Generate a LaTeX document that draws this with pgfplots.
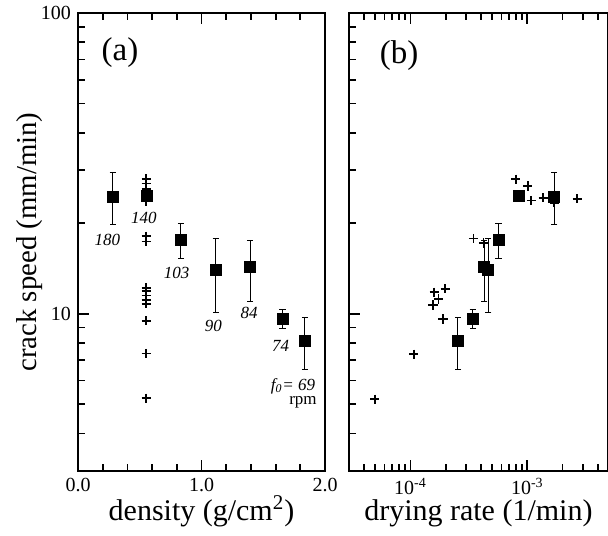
\documentclass[border=0pt]{standalone}
\usepackage{pgfplots}
\pgfplotsset{compat=1.18}
\usepackage{pgfplotstable}
\usepackage{fontspec}
\setmainfont{Liberation Serif}

% squares: x, speed, error plus, error minus
\pgfplotstableread{
x y ep em
0.281 24.5 4.9 4.7
0.559 24.7 0 0
0.834 17.6 2.3 2.3
1.115 14.0 3.8 3.9
1.393 14.3 3.2 3.3
1.657 9.6 0.7 0.7
1.838 8.13 1.57 1.58
}\densq

\pgfplotstableread{
x y
0.553 28.1
0.553 27.1
0.553 26.0
0.553 23.6
0.553 18.1
0.553 17.4
0.553 12.2
0.553 11.9
0.553 11.5
0.553 11.1
0.553 10.8
0.553 9.48
0.553 7.38
0.553 5.24
}\denplus

\pgfplotstableread{
x y ep em
1.70e-3 24.5 4.9 4.7
8.5e-4 24.7 0 0
5.67e-4 17.6 2.3 2.3
4.62e-4 14.0 3.8 3.9
4.27e-4 14.3 3.2 3.3
3.42e-4 9.6 0.7 0.7
2.55e-4 8.13 1.57 1.58
}\ratesq

\pgfplotstableread{
x y
7.96e-4 28.0
1.01e-3 26.6
1.08e-3 23.8
1.37e-3 24.3
1.70e-3 23.4
2.67e-3 24.1
3.47e-4 17.8
4.22e-4 17.2
1.60e-4 11.8
1.98e-4 12.1
1.74e-4 11.2
1.56e-4 10.7
1.90e-4 9.6
1.07e-4 7.34
4.94e-5 5.2
}\rateplus

\newcommand\annfont{\fontsize{8.5bp}{10bp}\selectfont\itshape}

\pgfplotsset{
  panel/.style={
    scale only axis,
    height=229bp,
    ymin=3, ymax=100,
    ytick={10,100},
    minor ytick={3,4,5,6,7,8,9,20,30,40,50,60,70,80,90},
    axis line style={line width=1bp},
    tick align=inside,
    major tick length=5.5bp,
    minor tick length=3.5bp,
    every tick/.style={black, line width=0.9bp},
    ytick pos=left,
    xtick pos=both,
    xticklabel pos=bottom,
    tick label style={font=\fontsize{10bp}{12bp}\selectfont},
    xlabel style={font=\fontsize{15bp}{18bp}\selectfont,
      at={(axis description cs:0.5,-0.107)}, anchor=base},
    ylabel style={font=\fontsize{14.4bp}{17bp}\selectfont},
  },
  sq/.style={black, only marks, mark=square*, mark size=2.75bp,
    mark options={line width=0.5bp},
    error bars/y dir=both, error bars/y explicit,
    error bars/error bar style={line width=0.5bp},
    error bars/error mark options={rotate=90, mark size=1.6bp, line width=0.5bp}},
  pl/.style={black, only marks, mark=+, mark size=2.3bp, line width=0.9bp},
}

\begin{document}
\begin{tikzpicture}
\begin{axis}[ymode=log, panel, name=L,
    at={(39bp,32.5bp)}, anchor=south west,
    width=123.5bp,
    xmin=0, xmax=2,
    xtick={0,1,2}, xticklabels={0.0,1.0,2.0},
    minor xtick={0.2,0.4,0.6,0.8,1.2,1.4,1.6,1.8},
    yticklabels={10,100},
    xlabel={density (g/cm\textsuperscript{2})},
    ylabel={crack speed (mm/min)},
    ylabel style={at={(axis description cs:-0.166,0.5)}, anchor=base},
  ]
  \addplot[pl] table[x=x,y=y] {\denplus};
  \addplot[sq] table[x=x,y=y,y error plus=ep,y error minus=em] {\densq};
  \node[font=\fontsize{16.5bp}{19bp}\selectfont] at (rel axis cs:0.17,0.914) {(a)};
  \node[font=\annfont] at (axis cs:0.237,17.6) {180};
  \node[font=\annfont] at (axis cs:0.534,20.8) {140};
  \node[font=\annfont] at (axis cs:0.799,13.7) {103};
  \node[font=\annfont] at (axis cs:1.096,9.12) {90};
  \node[font=\annfont] at (axis cs:1.385,10.05) {84};
  \node[font=\annfont] at (axis cs:1.641,7.82) {74};
  \node[font=\annfont] at (axis cs:1.741,5.75) {f\textsubscript{0}= 69};
  \node[font=\fontsize{8.5bp}{10bp}\selectfont] at (axis cs:1.822,5.09) {rpm};
\end{axis}
\begin{axis}[xmode=log, ymode=log, panel,
    at={(174.65bp,32.5bp)}, anchor=south west,
    width=129.1bp,
    xmin=3e-5, xmax=4.85e-3,
    xtick={1e-4,1e-3},
    xticklabels={10\textsuperscript{-4},10\textsuperscript{-3}},
    minor xtick={3e-5,4e-5,5e-5,6e-5,7e-5,8e-5,9e-5,2e-4,3e-4,4e-4,5e-4,6e-4,7e-4,8e-4,9e-4,2e-3,3e-3,4e-3},
    yticklabels={},
    xlabel={drying rate (1/min)},
  ]
  \addplot[pl] table[x=x,y=y] {\rateplus};
  \addplot[sq] table[x=x,y=y,y error plus=ep,y error minus=em] {\ratesq};
  \node[font=\fontsize{16.5bp}{19bp}\selectfont] at (rel axis cs:0.193,0.907) {(b)};
\end{axis}
\pgfresetboundingbox
\useasboundingbox (0,0) rectangle (304bp,268bp);
\end{tikzpicture}
\end{document}
